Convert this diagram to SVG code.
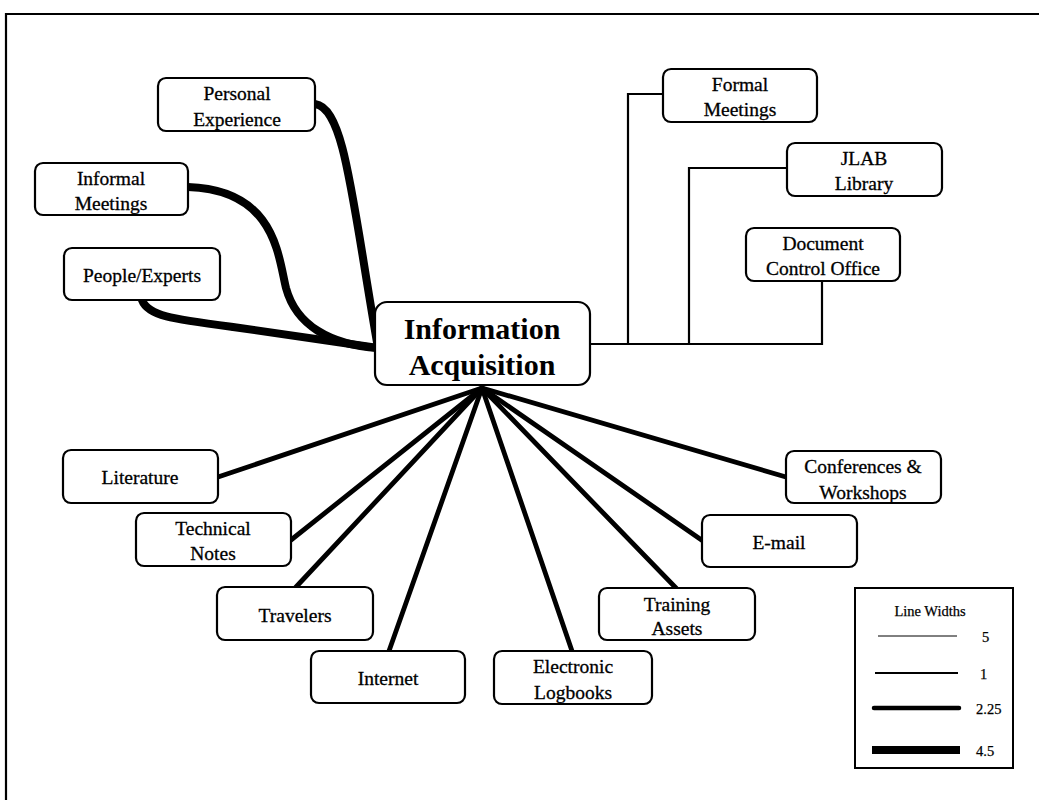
<svg xmlns="http://www.w3.org/2000/svg" width="1039" height="800" viewBox="0 0 1039 800">
<style>
.box{fill:#fff;stroke:#000;stroke-width:2.2}
.t{font-family:"Liberation Serif","Times New Roman",serif;font-size:19.5px;fill:#000;stroke:#000;stroke-width:0.3;text-anchor:middle;dominant-baseline:central}
.title{font-family:"Liberation Serif","Times New Roman",serif;font-size:30px;font-weight:bold;fill:#000;text-anchor:middle;dominant-baseline:central}
.lg{font-family:"Liberation Serif","Times New Roman",serif;font-size:14.5px;fill:#000;stroke:#000;stroke-width:0.25;dominant-baseline:central}
.thick{fill:none;stroke:#000;stroke-width:8;stroke-linecap:round}
.med{fill:none;stroke:#000;stroke-width:4.8;stroke-linecap:round}
.thin{fill:none;stroke:#000;stroke-width:2.2}
</style>
<rect width="1039" height="800" fill="#fff"/>
<g id="frame">
<path d="M6,800 V14 H1039" fill="none" stroke="#000" stroke-width="2.2"/>
</g>
<g id="connectors">
<path class="thick" d="M315,104 C345,108 352,200 378,348"/>
<path class="thick" d="M188,187 C275,190 278,255 286,288 C296,325 330,345 378,348"/>
<path class="thick" d="M142,300 C148,316 172,319 233,327 L378,348"/>
<path class="thin" d="M590,344 H822 V281"/>
<path class="thin" d="M628,344 V94 H663"/>
<path class="thin" d="M689,344 V168 H787"/>
<path class="med" d="M482,388 L218,477"/>
<path class="med" d="M482,388 L291,540"/>
<path class="med" d="M482,388 L296,587"/>
<path class="med" d="M482,388 L389,651"/>
<path class="med" d="M482,388 L572,651"/>
<path class="med" d="M482,388 L676,588"/>
<path class="med" d="M482,388 L703,541"/>
<path class="med" d="M482,388 L786,477"/>
</g>
<g id="center">
<rect class="box" x="375" y="302" width="215" height="83" rx="12"/>
<text class="title" x="482" y="328">Information</text>
<text class="title" x="482" y="364">Acquisition</text>
</g>
<g id="personal-experience">
<rect class="box" x="158" y="78" width="157" height="53" rx="8"/>
<text class="t" x="237" y="93">Personal</text>
<text class="t" x="237" y="119">Experience</text>
</g>
<g id="informal-meetings">
<rect class="box" x="35" y="163" width="153" height="52" rx="8"/>
<text class="t" x="111" y="178">Informal</text>
<text class="t" x="111" y="203">Meetings</text>
</g>
<g id="people-experts">
<rect class="box" x="64" y="248" width="156" height="52" rx="8"/>
<text class="t" x="142" y="275">People/Experts</text>
</g>
<g id="formal-meetings">
<rect class="box" x="663" y="69" width="154" height="53" rx="8"/>
<text class="t" x="740" y="84">Formal</text>
<text class="t" x="740" y="109">Meetings</text>
</g>
<g id="jlab-library">
<rect class="box" x="787" y="143" width="155" height="53" rx="8"/>
<text class="t" x="864" y="158">JLAB</text>
<text class="t" x="864" y="183">Library</text>
</g>
<g id="document-control-office">
<rect class="box" x="746" y="228" width="154" height="53" rx="8"/>
<text class="t" x="823" y="243">Document</text>
<text class="t" x="823" y="268">Control Office</text>
</g>
<g id="literature">
<rect class="box" x="63" y="450" width="155" height="53" rx="8"/>
<text class="t" x="140" y="477">Literature</text>
</g>
<g id="technical-notes">
<rect class="box" x="136" y="513" width="155" height="53" rx="8"/>
<text class="t" x="213" y="528">Technical</text>
<text class="t" x="213" y="553">Notes</text>
</g>
<g id="travelers">
<rect class="box" x="217" y="587" width="156" height="53" rx="8"/>
<text class="t" x="295" y="615">Travelers</text>
</g>
<g id="internet">
<rect class="box" x="311" y="651" width="154" height="52" rx="8"/>
<text class="t" x="388" y="678">Internet</text>
</g>
<g id="electronic-logbooks">
<rect class="box" x="494" y="651" width="158" height="53" rx="8"/>
<text class="t" x="573" y="666">Electronic</text>
<text class="t" x="573" y="692">Logbooks</text>
</g>
<g id="training-assets">
<rect class="box" x="599" y="588" width="156" height="52" rx="8"/>
<text class="t" x="677" y="604">Training</text>
<text class="t" x="677" y="628">Assets</text>
</g>
<g id="e-mail">
<rect class="box" x="702" y="515" width="155" height="52" rx="8"/>
<text class="t" x="779" y="542">E-mail</text>
</g>
<g id="conferences-workshops">
<rect class="box" x="786" y="451" width="155" height="52" rx="8"/>
<text class="t" x="863" y="466">Conferences &amp;</text>
<text class="t" x="863" y="492">Workshops</text>
</g>
<g id="legend">
<rect x="855" y="588" width="158" height="180" fill="#fff" stroke="#000" stroke-width="2"/>
<text class="lg" x="930" y="611" text-anchor="middle">Line Widths</text>
<line x1="878" y1="636" x2="957" y2="636" stroke="#000" stroke-width="1"/>
<text class="lg" x="982" y="637">5</text>
<line x1="875" y1="673" x2="958" y2="673" stroke="#000" stroke-width="2"/>
<text class="lg" x="980" y="674">1</text>
<line x1="874" y1="708" x2="959" y2="708" stroke="#000" stroke-width="4.5" stroke-linecap="round"/>
<text class="lg" x="976" y="709">2.25</text>
<line x1="872" y1="750" x2="960" y2="750" stroke="#000" stroke-width="8"/>
<text class="lg" x="976" y="751">4.5</text>
</g>
</svg>
